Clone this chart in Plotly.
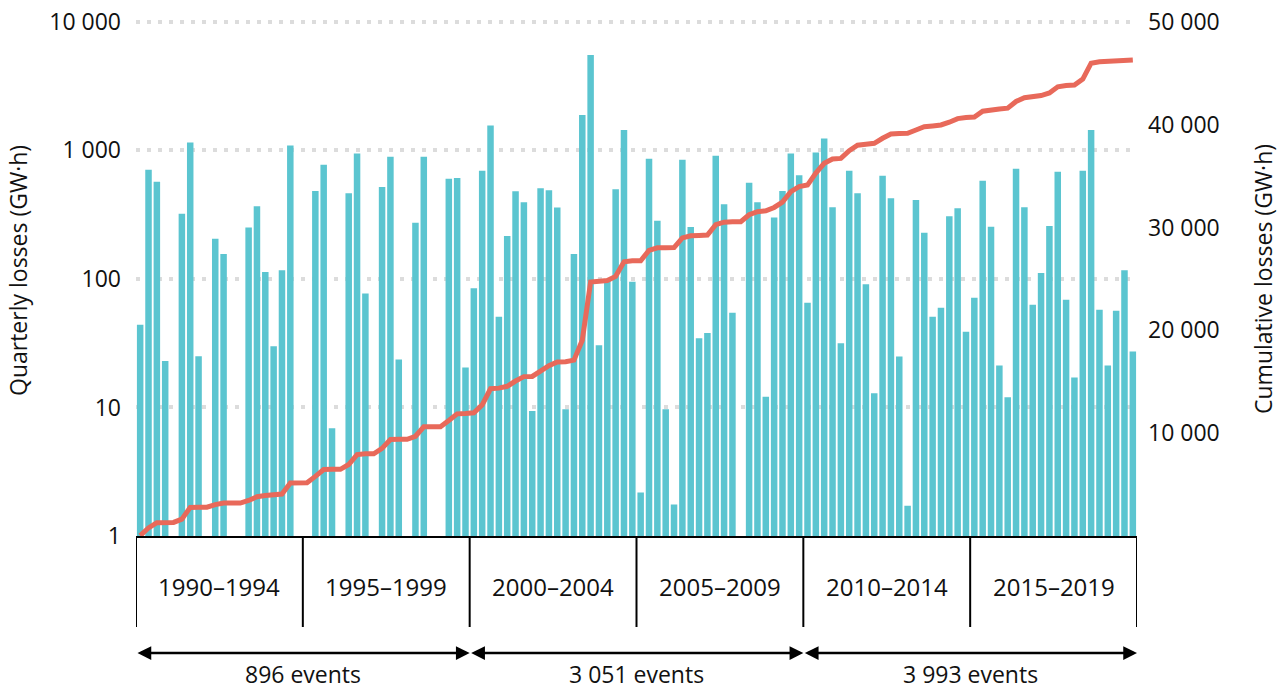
import plotly.graph_objects as go

# ---------------- data ----------------
quarterly_losses = [
    44, 706, 569, 23, None, 322, 1150, 25, None, 205, 156, None, None, 251, 368, 113, 30, 117, 1090, None,
    None, 484, 772, 6.9, None, 465, 946, 77, None, 520, 891, 23.6, None, 274, 891, None, None, 601, 611, 20.5,
    84.5, 693, 1564, 50.7, 216, 482, 395, 9.4, 508, 490, 359, 9.7, 156, 1884, 5530, 30.5, 97, 499, 1439, 95,
    2.18, 860, 284, 9.7, 1.76, 845, 254, 34.6, 37.9, 908, 381, 54.5, None, 559, 395, 12.1, 300, 484, 946, 642,
    65.3, 963, 1238, 361, 31.6, 693, 465, 90.8, 12.9, 634, 425, 24.9, 1.72, 412, 229, 50.7, 59.7, 307, 355, 38.8,
    71.4, 580, 255, 21.2, 12.0, 719, 361, 63, 111, 258, 681, 68.9, 17.1, 693, 1439, 57.5, 21.2, 56.5, 117, 27.3,
]

cumulative_losses = [
    40, 780, 1300, 1320, 1320, 1640, 2780, 2800, 2800, 3050, 3200, 3200, 3200, 3460, 3820, 3940, 3980, 4080, 5150, 5170,
    5170, 5800, 6470, 6480, 6480, 6950, 7920, 8000, 8000, 8520, 9380, 9400, 9400, 9700, 10620, 10620, 10620, 11230, 11880, 11920,
    11980, 12750, 14320, 14380, 14560, 15070, 15500, 15520, 16030, 16560, 16920, 16940, 17100, 19040, 24700, 24730, 24840, 25250, 26660, 26760,
    26770, 27780, 28030, 28040, 28050, 28990, 29200, 29230, 29260, 30280, 30520, 30560, 30560, 31240, 31540, 31620, 31950, 32470, 33480, 33980,
    34130, 35300, 36240, 36660, 36720, 37470, 38000, 38090, 38190, 38680, 39090, 39150, 39160, 39480, 39800, 39880, 39970, 40240, 40590, 40700,
    40740, 41310, 41480, 41530, 41610, 42260, 42620, 42670, 42830, 43080, 43680, 43810, 43850, 44430, 45980, 46110, 46130, 46190, 46250, 46290,
]

periods = ["1990–1994", "1995–1999", "2000–2004", "2005–2009", "2010–2014", "2015–2019"]
event_labels = ["896 events", "3 051 events", "3 993 events"]

left_tickvals = [1, 10, 100, 1000, 10000]
left_ticktext = ["1", "10", "100", "1 000", "10 000"]
right_tickvals = [10000, 20000, 30000, 40000, 50000]
right_ticktext = ["10 000", "20 000", "30 000", "40 000", "50 000"]

# ---------------- styling ----------------
FONT = "Open Sans"
TXT = "#111111"
BAR_COLOR = "#5BC5D0"
LINE_COLOR = "#E8695A"
n = len(quarterly_losses)
x = list(range(n))
quarters_per_period = n // len(periods)

# plot area in pixels (a small head-room above the top gridline so it is not clipped)
LOG_TOP = 4.03
L, R, T, B = 136, 1137, 18, 536
W, H = R - L, B - T


def py(pix):
    return (B - pix) / H


def px(pix):
    return (pix - L) / W


fig = go.Figure()
fig.add_trace(go.Bar(
    x=x, y=quarterly_losses, marker=dict(color=BAR_COLOR, line=dict(width=0)),
    yaxis="y", showlegend=False,
))
fig.add_trace(go.Scatter(
    x=x, y=cumulative_losses, mode="lines",
    line=dict(color=LINE_COLOR, width=5, shape="linear"),
    yaxis="y2", showlegend=False,
))

shapes = []
annotations = []
# vertical separators
for k in range(len(periods) + 1):
    xv = -0.5 + k * quarters_per_period
    shapes.append(dict(type="line", xref="x", yref="paper", x0=xv, x1=xv,
                       y0=0, y1=py(627), line=dict(color="black", width=2)))
# period labels
for k, p in enumerate(periods):
    annotations.append(dict(text=p, xref="x", yref="paper",
                            x=-0.5 + (k + 0.5) * quarters_per_period, y=py(586),
                            showarrow=False, font=dict(family=FONT, size=24, color=TXT),
                            xanchor="center", yanchor="middle"))
# event arrows and labels
span = 2 * quarters_per_period
for k, lab in enumerate(event_labels):
    x0 = -0.5 + k * span
    x1 = x0 + span
    annotations.append(dict(text="", xref="x", yref="paper", x=x1, y=py(653),
                            axref="x", ax=x0, ayref="pixel", ay=0,
                            showarrow=True, arrowhead=2, arrowside="end+start",
                            arrowsize=1.1, arrowwidth=2.5, arrowcolor="black",
                            standoff=0, startstandoff=0))
    annotations.append(dict(text=lab, xref="x", yref="paper", x=(x0 + x1) / 2, y=py(692),
                            showarrow=False, font=dict(family=FONT, size=23, color=TXT),
                            xanchor="center", yanchor="bottom"))
# axis titles
annotations.append(dict(text="Quarterly losses (GW·h)", xref="paper", yref="paper",
                        x=px(18), y=py(271), textangle=-90, showarrow=False,
                        font=dict(family=FONT, size=23, color=TXT),
                        xanchor="center", yanchor="middle"))
annotations.append(dict(text="Cumulative losses (GW·h)", xref="paper", yref="paper",
                        x=px(1263), y=py(279), textangle=-90, showarrow=False,
                        font=dict(family=FONT, size=23, color=TXT),
                        xanchor="center", yanchor="middle"))

fig.update_layout(
    width=1282, height=693,
    margin=dict(l=L, r=1282 - R, t=T, b=693 - B, pad=0, autoexpand=False),
    paper_bgcolor="white", plot_bgcolor="white",
    bargap=0.22,
    font=dict(family=FONT, size=23, color=TXT),
    xaxis=dict(range=[-0.5, n - 0.5], showgrid=False, zeroline=False, automargin=False,
               showticklabels=False, ticks="", showline=True,
               linecolor="black", linewidth=2),
    yaxis=dict(type="log", range=[0, LOG_TOP], tickvals=left_tickvals, ticktext=left_ticktext,
               showgrid=True, gridcolor="#DCDCDC", gridwidth=4, griddash="4px,7px",
               zeroline=False, showline=False, ticks="", ticklabelstandoff=14,
               automargin=False,
               tickfont=dict(family=FONT, size=23, color=TXT)),
    yaxis2=dict(overlaying="y", side="right", range=[0, 50000 * LOG_TOP / 4],
                tickvals=right_tickvals, ticktext=right_ticktext,
                showgrid=False, zeroline=False, showline=False, ticks="",
                ticklabelstandoff=10, automargin=False,
                tickfont=dict(family=FONT, size=23, color=TXT)),
    shapes=shapes, annotations=annotations,
)

fig.write_html("out.html", config={"displayModeBar": False},
               post_script="document.body.style.margin='0';document.body.style.padding='0';")
